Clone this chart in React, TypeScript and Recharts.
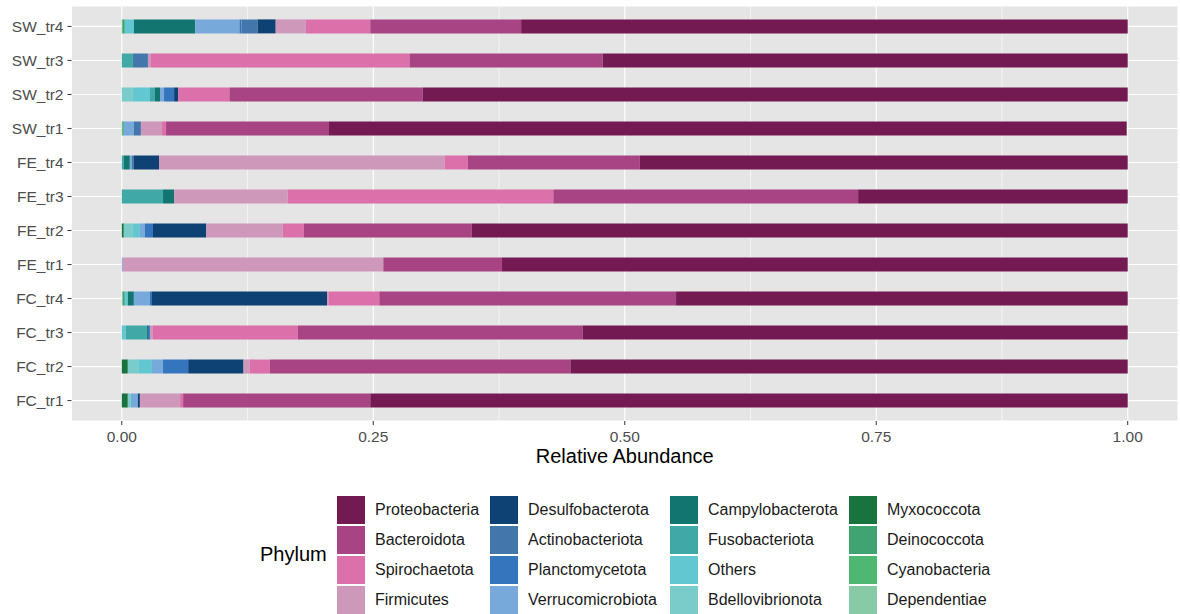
import React from 'react';
import { BarChart, Bar, XAxis, YAxis, CartesianGrid } from 'recharts';

const samples = [
  'SW_tr4', 'SW_tr3', 'SW_tr2', 'SW_tr1',
  'FE_tr4', 'FE_tr3', 'FE_tr2', 'FE_tr1',
  'FC_tr4', 'FC_tr3', 'FC_tr2', 'FC_tr1',
];

const phyla = [
  'Proteobacteria', 'Bacteroidota', 'Spirochaetota', 'Firmicutes',
  'Desulfobacterota', 'Actinobacteriota', 'Planctomycetota', 'Verrucomicrobiota',
  'Campylobacterota', 'Fusobacteriota', 'Others', 'Bdellovibrionota',
  'Myxococcota', 'Deinococcota', 'Cyanobacteria', 'Dependentiae',
];

const phylumColors = [
  '#741a52', '#a84384', '#db70aa', '#cd98ba',
  '#0e4275', '#4376ab', '#3475bd', '#77a9db',
  '#127570', '#40a9a7', '#63c7d2', '#79ccc9',
  '#18733f', '#3fa472', '#4eb872', '#87cba6',
];

// relative abundance per phylum, in sample order (SW_tr4 ... FC_tr1)
const proteobacteria = [0.603, 0.522, 0.701, 0.793, 0.485, 0.268, 0.652, 0.622, 0.449, 0.542, 0.554, 0.753];
const bacteroidota = [0.150, 0.192, 0.192, 0.162, 0.171, 0.303, 0.167, 0.118, 0.295, 0.283, 0.299, 0.186];
const spirochaetota = [0.064, 0.257, 0.051, 0.004, 0.023, 0.264, 0.021, 0, 0.050, 0.144, 0.020, 0.003];
const firmicutes = [0.030, 0.003, 0, 0.021, 0.284, 0.113, 0.076, 0.259, 0.002, 0.003, 0.006, 0.040];
const desulfobacterota = [0.018, 0, 0.004, 0, 0.025, 0, 0.053, 0, 0.174, 0, 0.055, 0.002];
const actinobacteriota = [0.016, 0.015, 0, 0.007, 0.002, 0, 0, 0, 0, 0, 0, 0];
const planctomycetota = [0.002, 0, 0.010, 0, 0, 0, 0.008, 0, 0.002, 0.002, 0.025, 0];
const verrucomicrobiota = [0.044, 0, 0.004, 0.010, 0.002, 0, 0.005, 0.001, 0.016, 0, 0.011, 0.007];
const campylobacterota = [0.061, 0, 0.005, 0, 0.006, 0.011, 0, 0, 0.006, 0.001, 0, 0];
const fusobacteriota = [0, 0.011, 0.005, 0, 0.002, 0.041, 0, 0, 0, 0.021, 0, 0];
const others = [0.009, 0, 0.017, 0, 0, 0, 0.007, 0, 0.003, 0.004, 0.013, 0];
const bdellovibrionota = [0, 0, 0.011, 0, 0, 0, 0.009, 0, 0, 0, 0.011, 0.003];
const myxococcota = [0, 0, 0, 0, 0, 0, 0.002, 0, 0, 0, 0.006, 0.006];
const deinococcota = [0.002, 0, 0, 0.001, 0, 0, 0, 0, 0.002, 0, 0, 0];
const cyanobacteria = [0.001, 0, 0, 0.001, 0, 0, 0, 0, 0, 0, 0, 0];
const dependentiae = [0, 0, 0, 0, 0, 0, 0, 0, 0.001, 0, 0, 0];

const xTicks = [0, 0.25, 0.5, 0.75, 1];
const xMinor = [0.125, 0.375, 0.625, 0.875];

const series = [
  proteobacteria, bacteroidota, spirochaetota, firmicutes,
  desulfobacterota, actinobacteriota, planctomycetota, verrucomicrobiota,
  campylobacterota, fusobacteriota, others, bdellovibrionota,
  myxococcota, deinococcota, cyanobacteria, dependentiae,
];

const data = samples.map((s, i) => {
  const row: Record<string, string | number> = { sample: s };
  phyla.forEach((p, j) => {
    row[p] = series[j][i];
  });
  return row;
});

const FONT = '"Liberation Sans", Arial, sans-serif';

// legend geometry (4 columns x 4 rows, filled column-wise)
const legendCols = [337, 490, 670, 849];
const legendTop = 496;

const Legend16 = () => (
  <div style={{ position: 'absolute', left: 0, top: 0, width: 1180, height: 614, pointerEvents: 'none' }}>
    <div style={{ position: 'absolute', left: 260, top: 540, fontSize: 20, color: '#000', lineHeight: '28px' }}>
      Phylum
    </div>
    {phyla.map((p, k) => {
      const col = Math.floor(k / 4);
      const row = k % 4;
      const left = legendCols[col];
      const top = legendTop + row * 30;
      return (
        <React.Fragment key={p}>
          <div style={{ position: 'absolute', left, top, width: 28, height: 27.5, background: phylumColors[k] }} />
          <div
            style={{
              position: 'absolute',
              left: left + 38,
              top,
              height: 27.5,
              display: 'flex',
              alignItems: 'center',
              fontSize: 16,
              color: '#1a1a1a',
              whiteSpace: 'nowrap',
            }}
          >
            {p}
          </div>
        </React.Fragment>
      );
    })}
  </div>
);

export default function App() {
  return (
    <div style={{ position: 'relative', width: 1180, height: 614, fontFamily: FONT, background: '#fff' }}>
      <style>{'body{margin:0}'}</style>
      <BarChart
        width={1180}
        height={614}
        data={data}
        layout="vertical"
        margin={{ top: 6, right: 2, bottom: 165, left: 0 }}
        barSize={14}
      >
        <CartesianGrid fill="#e5e5e5" fillOpacity={1} stroke="#ffffff" strokeWidth={1.1} />
        <CartesianGrid horizontal={false} verticalValues={xMinor} stroke="#ffffff" strokeWidth={0.55} />
        <XAxis
          type="number"
          domain={[-0.05, 1.05]}
          ticks={xTicks}
          allowDataOverflow
          tickFormatter={(v: number) => v.toFixed(2)}
          axisLine={false}
          tickLine={{ stroke: '#333333' }}
          tickSize={4}
          tickMargin={6}
          tick={{ fill: '#4d4d4d', fontSize: 15.5, fontFamily: FONT }}
          height={28}
          label={{ value: 'Relative Abundance', position: 'bottom', offset: 0, fill: '#000', fontSize: 20, fontFamily: FONT }}
        />
        <YAxis
          type="category"
          dataKey="sample"
          width={71.5}
          axisLine={false}
          tickLine={{ stroke: '#333333' }}
          tickSize={4}
          tickMargin={4}
          padding={{ top: 3.4, bottom: 3.4 }}
          tick={{ fill: '#4d4d4d', fontSize: 15.5, fontFamily: FONT }}
        />
        {phyla
          .map((p, j) => ({ p, c: phylumColors[j] }))
          .reverse()
          .map(({ p, c }) => (
            <Bar key={p} dataKey={p} stackId="a" fill={c} isAnimationActive={false} />
          ))}
      </BarChart>
      <Legend16 />
    </div>
  );
}
